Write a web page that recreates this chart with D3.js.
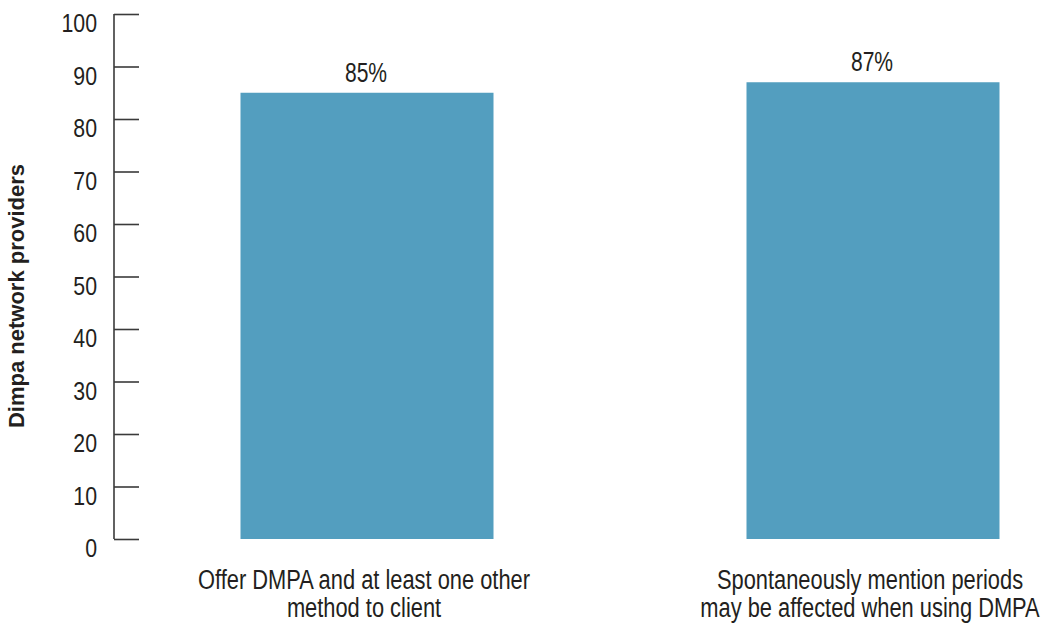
<!DOCTYPE html>
<html>
<head>
<meta charset="utf-8">
<script src="https://cdn.jsdelivr.net/npm/d3@7"></script>
<style>
  html, body { margin: 0; padding: 0; background: #fff; }
  svg { display: block; }
  text { font-family: "Liberation Sans", Arial, sans-serif; fill: #231f20; }
</style>
</head>
<body>
<svg id="chart" width="1049" height="626"></svg>
<script>
// Share of Dimpa network providers for each behaviour
const categories = [
  ["Offer DMPA and at least one other", "method to client"],
  ["Spontaneously mention periods", "may be affected when using DMPA"]
];
const values = [85, 87];
const valueLabels = ["85%", "87%"];
const yTicks = [0, 10, 20, 30, 40, 50, 60, 70, 80, 90, 100];
const yTitle = "Dimpa network providers";

const svg = d3.select("#chart");
const axisX = 114;
const narrow = 0.82; // horizontal squeeze to give a condensed face

const y = d3.scaleLinear().domain([0, 100]).range([539, 14]);
const x = d3.scaleBand()
  .domain(d3.range(categories.length))
  .range([114, 1126])
  .paddingInner(0.5)
  .paddingOuter(0.25);

// Bars
svg.append("g").selectAll("rect")
  .data(values)
  .join("rect")
  .attr("x", (d, i) => x(i))
  .attr("width", x.bandwidth())
  .attr("y", d => y(d))
  .attr("height", d => y(0) - y(d))
  .attr("fill", "#539ebf");

// Value labels above bars
svg.append("g").selectAll("text")
  .data(values)
  .join("text")
  .attr("transform", (d, i) => `translate(${x(i) + x.bandwidth() / 2 - 1},${y(d) - 11}) scale(0.78,1)`)
  .attr("text-anchor", "middle")
  .attr("font-size", 27)
  .text((d, i) => valueLabels[i]);

// Y axis: ticks point into the plot, labels sit just below each tick
const yAxis = d3.axisRight(y)
  .tickValues(yTicks)
  .tickSize(25)
  .tickFormat("");
const gy = svg.append("g")
  .attr("transform", `translate(${axisX},0)`)
  .call(yAxis);
gy.select(".domain").attr("stroke", "#3a3a3a").attr("stroke-width", 1.6).attr("d", `M0,${y(100)}V${y(0)}`);
gy.selectAll(".tick line").attr("stroke", "#3a3a3a").attr("stroke-width", 1.6);

svg.append("g").selectAll("text")
  .data(yTicks)
  .join("text")
  .attr("transform", d => `translate(97,${y(d) + 18}) scale(${narrow},1)`)
  .attr("text-anchor", "end")
  .attr("font-size", 26)
  .text(d => d);

// Category labels (two lines each)
svg.append("g").selectAll("text")
  .data(categories)
  .join("text")
  .attr("transform", (d, i) => `translate(${x(i) + x.bandwidth() / 2 - 3},589) scale(0.81,1)`)
  .attr("text-anchor", "middle")
  .attr("font-size", 27)
  .selectAll("tspan")
  .data(d => d)
  .join("tspan")
  .attr("x", 0)
  .attr("dy", (d, j) => j === 0 ? 0 : 28)
  .text(d => d);

// Y axis title
svg.append("text")
  .attr("transform", `translate(24,296) rotate(-90)`)
  .attr("text-anchor", "middle")
  .attr("font-size", 22)
  .attr("font-weight", "bold")
  .text(yTitle);
</script>
</body>
</html>
